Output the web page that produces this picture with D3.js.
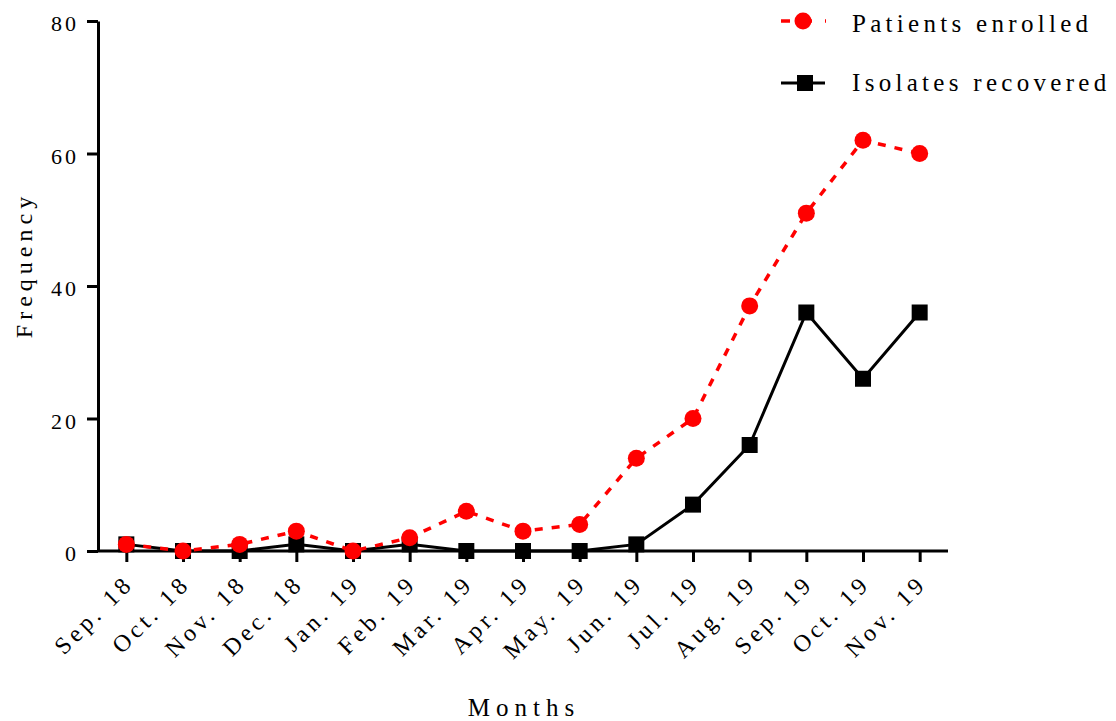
<!DOCTYPE html>
<html>
<head>
<meta charset="utf-8">
<script src="https://cdn.jsdelivr.net/npm/d3@7"></script>
<style>
  body { margin: 0; background: #fff; }
  text { font-family: "Liberation Serif", "DejaVu Serif", serif; fill: #000; }
</style>
</head>
<body>
<div id="chart"></div>
<script>
// months on the x axis
var months = ['Sep. 18', 'Oct. 18', 'Nov. 18', 'Dec. 18', 'Jan. 19', 'Feb. 19', 'Mar. 19',
  'Apr. 19', 'May. 19', 'Jun. 19', 'Jul. 19', 'Aug. 19', 'Sep. 19', 'Oct. 19', 'Nov. 19'];

// series values
var patientsEnrolled = [1, 0, 1, 3, 0, 2, 6, 3, 4, 14, 20, 37, 51, 62, 60];
var isolatesRecovered = [1, 0, 0, 1, 0, 1, 0, 0, 0, 1, 7, 16, 36, 26, 36];

var yTicks = [0, 20, 40, 60, 80];

var width = 1116, height = 721;
var margin = { left: 98, right: 168, top: 21, bottom: 170 };

var svg = d3.select('#chart').append('svg')
  .attr('width', width)
  .attr('height', height);

var x = d3.scalePoint()
  .domain(months)
  .range([margin.left, width - margin.right])
  .padding(0.5);

var y = d3.scaleLinear()
  .domain([0, 80])
  .range([height - margin.bottom, margin.top]);

// y axis
var yAxis = svg.append('g')
  .attr('transform', 'translate(' + margin.left + ',0)')
  .call(d3.axisLeft(y).tickValues(yTicks).tickSize(11).tickPadding(8).tickSizeOuter(0));
yAxis.select('.domain').attr('stroke-width', 3);
yAxis.selectAll('.tick line').attr('stroke-width', 3);
yAxis.selectAll('.tick text')
  .style('font-size', '22px')
  .style('letter-spacing', '3px')
  .attr('dy', '0.45em');

// x axis
var xAxis = svg.append('g')
  .attr('transform', 'translate(0,' + y(0) + ')')
  .call(d3.axisBottom(x).tickSize(11).tickSizeOuter(0));
xAxis.select('.domain').attr('stroke-width', 3)
  .attr('d', 'M' + margin.left + ',0H' + (width - margin.right));
xAxis.selectAll('.tick line').attr('stroke-width', 3);
xAxis.selectAll('.tick text')
  .style('font-size', '24px')
  .style('letter-spacing', '4px')
  .style('text-anchor', 'end')
  .attr('x', 0)
  .attr('y', 0)
  .attr('dy', 0)
  .attr('transform', 'translate(8,34) rotate(-45)');

// axis titles
svg.append('text')
  .attr('transform', 'translate(32,265) rotate(-90)')
  .attr('text-anchor', 'middle')
  .style('font-size', '24px')
  .style('letter-spacing', '5px')
  .text('Frequency');

svg.append('text')
  .attr('x', 524)
  .attr('y', 716)
  .attr('text-anchor', 'middle')
  .style('font-size', '25px')
  .style('letter-spacing', '6px')
  .text('Months');

var line = d3.line()
  .x(function(d, i) { return x(months[i]); })
  .y(function(d) { return y(d); });

// isolates recovered (solid black, squares)
svg.append('path')
  .datum(isolatesRecovered)
  .attr('fill', 'none')
  .attr('stroke', '#000')
  .attr('stroke-width', 3)
  .attr('d', line);

svg.selectAll('.sq')
  .data(isolatesRecovered).enter()
  .append('rect')
  .attr('class', 'sq')
  .attr('x', function(d, i) { return x(months[i]) - 8; })
  .attr('y', function(d) { return y(d) - 8; })
  .attr('width', 16)
  .attr('height', 16)
  .attr('fill', '#000');

// patients enrolled (dashed red, circles)
svg.append('path')
  .datum(patientsEnrolled)
  .attr('fill', 'none')
  .attr('stroke', '#ff0000')
  .attr('stroke-width', 3.5)
  .attr('stroke-dasharray', '8,9')
  .attr('d', line);

svg.selectAll('.dot')
  .data(patientsEnrolled).enter()
  .append('circle')
  .attr('class', 'dot')
  .attr('cx', function(d, i) { return x(months[i]); })
  .attr('cy', function(d) { return y(d); })
  .attr('r', 8.5)
  .attr('fill', '#ff0000');

// legend
var legend = svg.append('g');

legend.append('line')
  .attr('x1', 781).attr('x2', 826).attr('y1', 21).attr('y2', 21)
  .attr('stroke', '#ff0000').attr('stroke-width', 3.5)
  .attr('stroke-dasharray', '9,13');
legend.append('circle')
  .attr('cx', 803).attr('cy', 21).attr('r', 8.5).attr('fill', '#ff0000');
legend.append('text')
  .attr('x', 852).attr('y', 32)
  .style('font-size', '25px')
  .style('letter-spacing', '4.3px')
  .text('Patients enrolled');

legend.append('line')
  .attr('x1', 781).attr('x2', 825).attr('y1', 83).attr('y2', 83)
  .attr('stroke', '#000').attr('stroke-width', 3);
legend.append('rect')
  .attr('x', 797).attr('y', 75).attr('width', 16).attr('height', 16).attr('fill', '#000');
legend.append('text')
  .attr('x', 852).attr('y', 91)
  .style('font-size', '25px')
  .style('letter-spacing', '4.3px')
  .text('Isolates recovered');
</script>
</body>
</html>
